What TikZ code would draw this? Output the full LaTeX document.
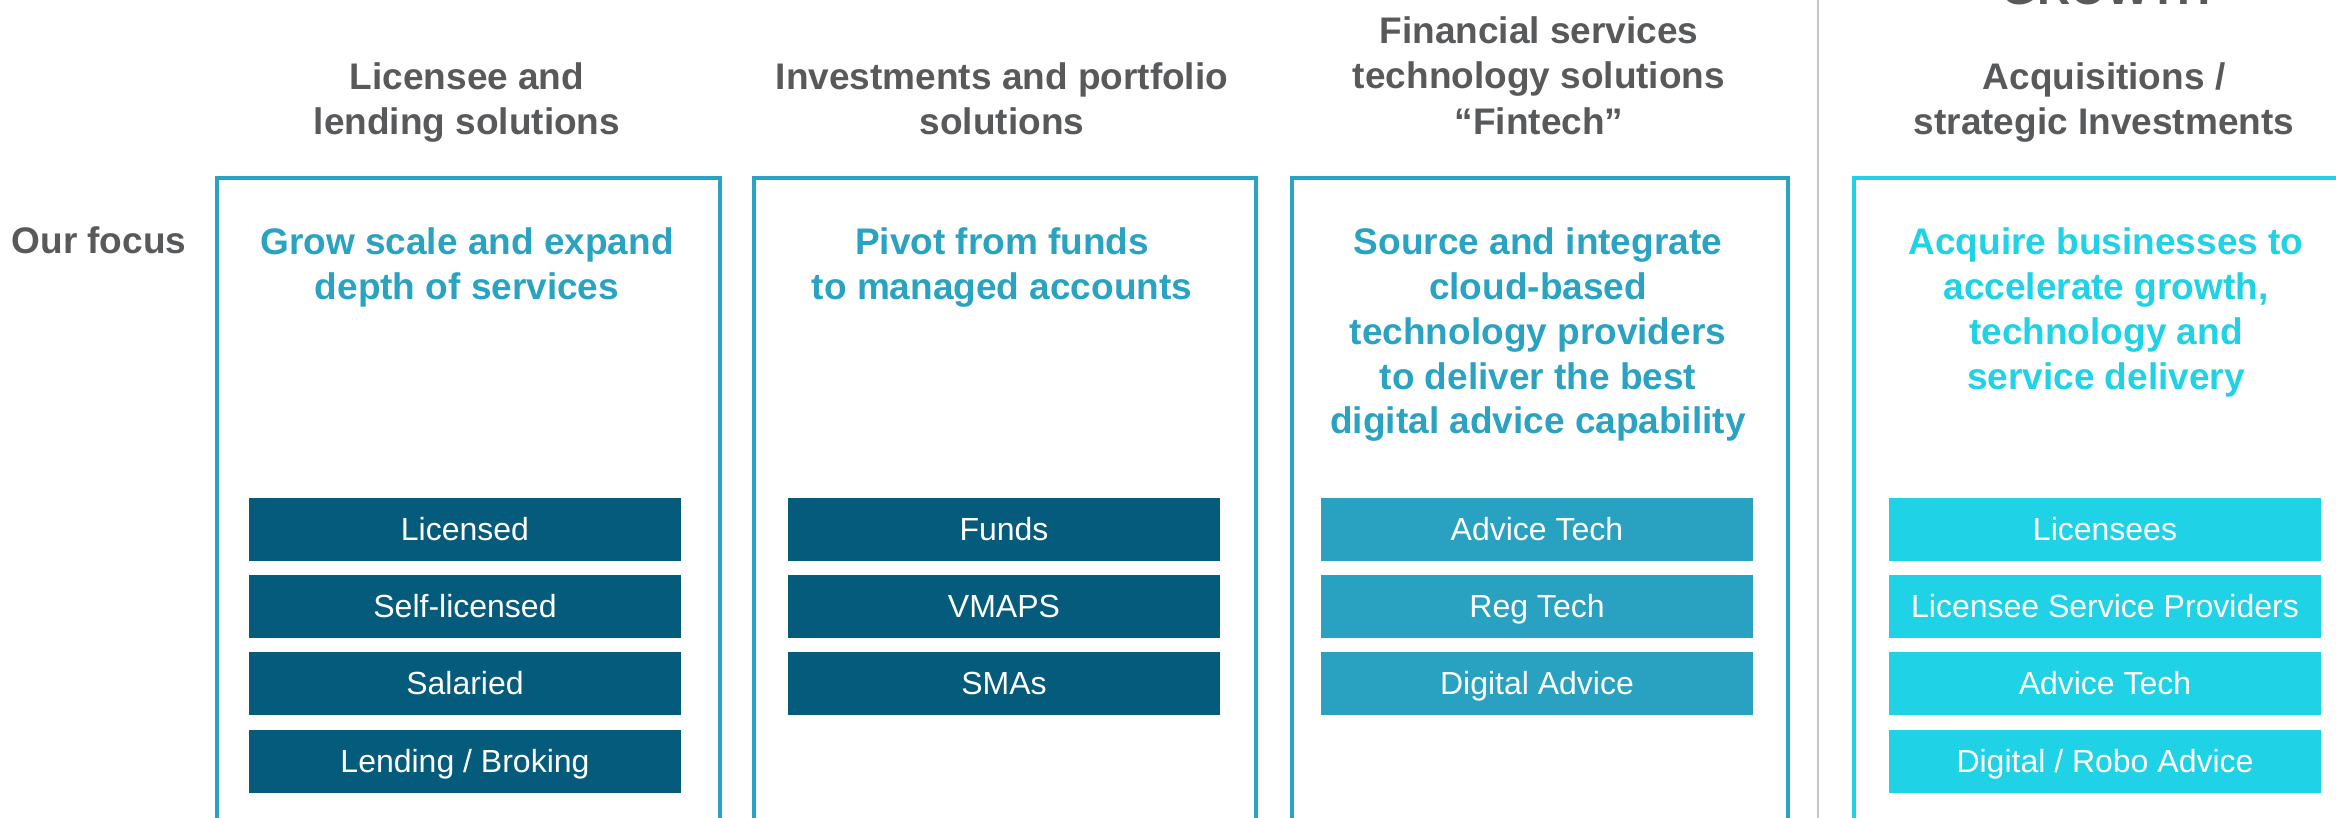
\documentclass[tikz,border=0pt]{standalone}
\usepackage{fontspec}
\setmainfont{Liberation Sans}
\definecolor{hdrgray}{HTML}{58595B}
\definecolor{teal}{HTML}{2AA3C2}
\definecolor{cyanacc}{HTML}{1FD2E5}
\definecolor{deepteal}{HTML}{045B7B}
\definecolor{midteal}{HTML}{29A1C1}
\definecolor{sepgray}{HTML}{C8C8C8}
\begin{document}
\begin{tikzpicture}[x=0.5pt,y=-0.5pt,
  hdr/.style={font=\bfseries\fontsize{18.5}{22.6}\selectfont, text=hdrgray,
    align=center, anchor=north, inner sep=0pt},
  focus/.style={font=\bfseries\fontsize{18.5}{22.4}\selectfont, text=teal,
    align=center, anchor=north, inner sep=0pt},
  panel/.style={draw=teal, line width=2.1pt, anchor=north west, inner sep=0pt,
    minimum height=342pt},
  item/.style={minimum width=216pt, minimum height=31.5pt, inner sep=0pt,
    text=white, font=\fontsize{16}{19}\selectfont,
    text height=14.46pt, text depth=3pt},
  darkitem/.style={item, fill=deepteal},
  miditem/.style={item, fill=midteal},
  cyanitem/.style={item, fill=cyanacc},
  sepline/.style={draw=sepgray, line width=1pt}]
\useasboundingbox (0,0) rectangle (2336,818);
\clip (0,0) rectangle (2336,818);
\fill[white] (0,0) rectangle (2336,818);

% column divider before the growth column
\coordinate (st) at (1817.5,0);
\coordinate (sb) at (1817.5,818);
\draw[sepline] (st) -- (sb);

% outlined panels
\node[panel, minimum width=251.5pt] (p1) at (215,176.3) {};
\node[panel, minimum width=251pt] (p2) at (752,176.3) {};
\node[panel, minimum width=248pt] (p3) at (1290,176.3) {};
\node[panel, draw=cyanacc, minimum width=250pt] (p4) at (1852,176.3) {};

% column headings
\node[hdr, anchor=base, font=\bfseries\fontsize{23}{27}\selectfont] (g) at (2106,5) {GROWTH};
\node[hdr] (h1) at (467,62.5) {Licensee and\\lending solutions};
\node[hdr] (h2) at (1002,62.5) {Investments and portfolio\\solutions};
\node[hdr] (h3) at (1539,16.5) {Financial services\\technology solutions\\“Fintech”};
\node[hdr] (h4) at (2104,62.5) {Acquisitions /\\strategic Investments};

% row label
\node[hdr, anchor=base] (of) at (99,254) {Our focus};

% focus statements
\node[focus] (f1) at (467,227.5) {Grow scale and expand\\depth of services};
\node[focus] (f2) at (1002,227.5) {Pivot from funds\\to managed accounts};
\node[focus] (f3) at (1538,227.5) {Source and integrate\\cloud-based\\technology providers\\to deliver the best\\digital advice capability};
\node[focus, text=cyanacc] (f4) at (2106,227.5) {Acquire businesses to\\accelerate growth,\\technology and\\service delivery};

% licensee and lending items
\node[darkitem] (a1) at (465,529) {Licensed};
\node[darkitem] (a2) at (465,606) {Self-licensed};
\node[darkitem] (a3) at (465,683) {Salaried};
\node[darkitem] (a4) at (465,761) {Lending / Broking};

% investment items
\node[darkitem] (b1) at (1004,529) {Funds};
\node[darkitem] (b2) at (1004,606) {VMAPS};
\node[darkitem] (b3) at (1004,683) {SMAs};

% fintech items
\node[miditem] (c1) at (1537,529) {Advice Tech};
\node[miditem] (c2) at (1537,606) {Reg Tech};
\node[miditem] (c3) at (1537,683) {Digital Advice};

% acquisition items
\node[cyanitem] (d1) at (2105,529) {Licensees};
\node[cyanitem] (d2) at (2105,606) {Licensee Service Providers};
\node[cyanitem] (d3) at (2105,683) {Advice Tech};
\node[cyanitem] (d4) at (2105,761) {Digital / Robo Advice};
\end{tikzpicture}
\end{document}
